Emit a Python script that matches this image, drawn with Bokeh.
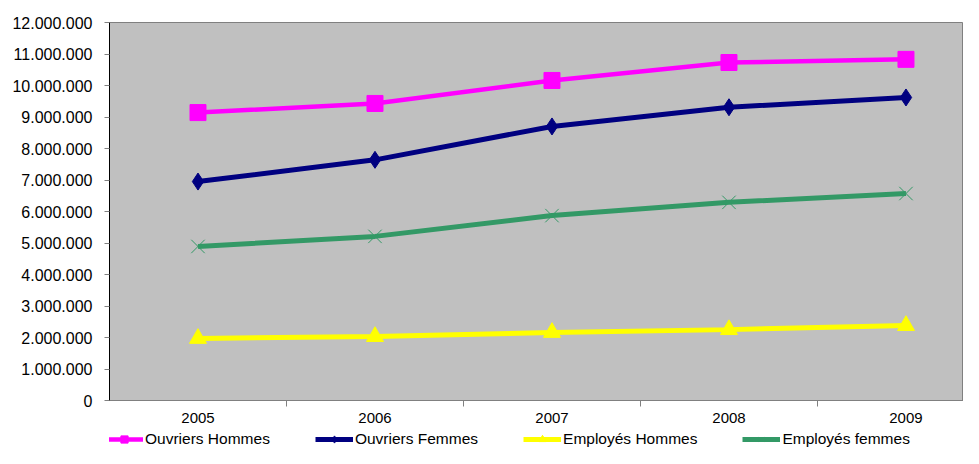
from bokeh.plotting import figure
from bokeh.models import Range1d, FixedTicker, Legend, LegendItem
from bokeh.layouts import column
from bokeh.embed import file_html
from bokeh.resources import INLINE

years = ["2005", "2006", "2007", "2008", "2009"]
ouvriers_hommes = [9140000, 9430000, 10160000, 10730000, 10830000]
ouvriers_femmes = [6950000, 7640000, 8700000, 9310000, 9620000]
employes_hommes = [1970000, 2030000, 2160000, 2250000, 2380000]
employes_femmes = [4890000, 5210000, 5870000, 6290000, 6570000]
y_ticks = list(range(0, 12000001, 1000000))

FONT = "Liberation Sans"
x = list(range(len(years)))

p = figure(width=963, height=430, output_backend="svg", toolbar_location=None,
           x_range=Range1d(-0.5, 4.325), y_range=Range1d(0, 12000000),
           min_border_left=109, min_border_top=22, min_border_right=0,
           min_border_bottom=30)
p.background_fill_color = "#C0C0C0"
p.border_fill_color = "white"
p.outline_line_color = "#808080"
p.xgrid.visible = False
p.ygrid.visible = False

# axes
p.yaxis.ticker = FixedTicker(ticks=y_ticks)
p.yaxis.major_label_overrides = {v: f"{v:,}".replace(",", ".") for v in y_ticks}
p.yaxis.axis_line_color = "black"
p.yaxis.major_tick_line_color = "#808080"
p.yaxis.major_tick_out = 5
p.yaxis.major_tick_in = 0
p.yaxis.minor_tick_line_color = None
p.yaxis.major_label_text_font = FONT
p.yaxis.major_label_text_font_size = "16px"
p.yaxis.major_label_text_color = "black"
p.yaxis.major_label_standoff = 12

p.xaxis.ticker = FixedTicker(ticks=x, minor_ticks=[i + 0.5 for i in x])
p.xaxis.major_label_overrides = {i: y for i, y in zip(x, years)}
p.xaxis.axis_line_color = "#808080"
p.xaxis.major_tick_line_color = None
p.xaxis.major_tick_out = 6
p.xaxis.major_tick_in = 0
p.xaxis.minor_tick_line_color = "#808080"
p.xaxis.minor_tick_out = 6
p.xaxis.minor_tick_in = 0
p.xaxis.major_label_text_font = FONT
p.xaxis.major_label_text_font_size = "15px"
p.xaxis.major_label_text_color = "black"
p.xaxis.major_label_standoff = 6

series = [
    ("Ouvriers Hommes", ouvriers_hommes, "#FF00FF", "square", 16, 4.5),
    ("Ouvriers Femmes", ouvriers_femmes, "#000080", "diamond", 17, 5),
    ("Employés Hommes", employes_hommes, "#FFFF00", "triangle", 17, 5),
    ("Employés femmes", employes_femmes, "#339966", "x", 19, 5),
]

# legend strip below the chart
lf = figure(width=963, height=18, output_backend="svg", toolbar_location=None,
            title=None, x_axis_location=None, y_axis_location=None,
            x_range=Range1d(0, 1), y_range=Range1d(0, 1),
            min_border_left=0, min_border_right=0, min_border_top=0, min_border_bottom=0)
lf.xgrid.visible = False
lf.ygrid.visible = False
lf.outline_line_color = None
lf.background_fill_color = "white"

items = []
for name, vals, col, marker, size, lw in series:
    p.line(x, vals, line_color=col, line_width=lw)
    if marker == "x":
        p.scatter(x, vals, marker=marker, size=size, line_color=col, line_width=1)
        s2 = lf.scatter([-9], [-9], marker=marker, size=size, line_color=col, line_width=1)
    else:
        p.scatter(x, vals, marker=marker, size=size, fill_color=col, line_color=col)
        s2 = lf.scatter([-9], [-9], marker=marker, size=size, fill_color=col, line_color=col)
    l2 = lf.line([-9, -8], [-9, -9], line_color=col, line_width=lw)
    items.append(LegendItem(label=name, renderers=[l2, s2]))

legend = Legend(items=items, orientation="horizontal", location=(-4, 0),
                label_text_font=FONT, label_text_font_size="15.5px",
                label_text_color="black", glyph_width=38, glyph_height=18,
                label_height=18, label_standoff=2, spacing=45, padding=0, margin=0,
                border_line_color=None, background_fill_alpha=0)
lf.add_layout(legend, "center")

open("out.html", "w").write(file_html(column(p, lf, spacing=0), INLINE))
